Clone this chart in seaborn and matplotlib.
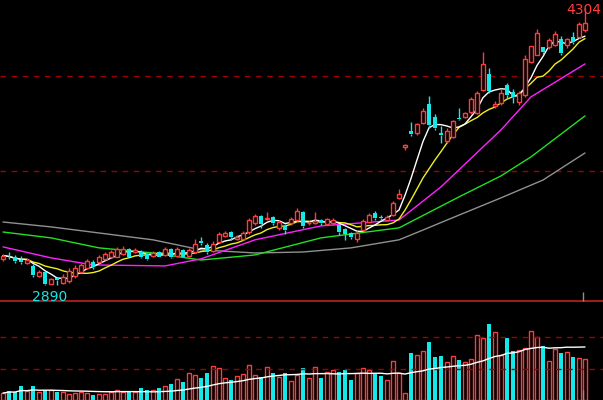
import numpy as np
import pandas as pd
import matplotlib
matplotlib.use("Agg")
import matplotlib.pyplot as plt
import seaborn as sns

opens = [3022,3035,3035,3015,3000,2987,2936,2956,2895,2925,2900,2910,2935,2955,2975,3005,3005,3020,3030,3035,3050,3075,3060,3060,3050,3040,3060,3045,3075,3040,3070,3040,
         3060,3115,3095,3065,3110,3140,3160,3125,3125,3160,3205,3240,3225,3235,3180,3190,3205,3220,3260,3205,3205,3220,3200,3205,3195,3175,3155,3125,3170,3210,3255,3235,3220,
         3245,3335,3595,3675,3665,3716,3812,3745,3665,3625,3645,3740,3745,3772,3765,3885,3966,
         3805,3818,3910,3875,3823,3860,4027,4063,4103,4103,4114,4144,4114,4154,4154,4190]
closes = [3040,3030,3010,3005,3015,2941,2956,2895,2920,2915,2930,2960,2975,2990,3010,2980,3035,3050,3060,3075,3075,3035,3070,3030,3020,3055,3035,3075,3030,3075,3035,3070,
          3100,3105,3060,3100,3150,3155,3135,3135,3155,3220,3240,3200,3232,3205,3210,3170,3225,3265,3190,3207,3215,3205,3225,3220,3160,3150,3135,3155,3215,3245,3230,3230,3235,
          3310,3355,3605,3660,3710,3777,3705,3690,3655,3675,3725,3735,3765,3838,3870,4017,3880,
          3815,3870,3860,3850,3870,4043,4108,4175,4078,4139,4170,4073,4144,4129,4220,4226]
highs = [3050,3060,3045,3040,3025,2995,2965,2960,2925,2930,2945,2975,2990,3000,3020,3015,3045,3060,3070,3085,3090,3080,3080,3070,3055,3065,3065,3085,3080,3085,3075,3080,
         3125,3135,3105,3115,3160,3165,3165,3145,3165,3230,3250,3245,3260,3240,3220,3200,3235,3280,3265,3215,3260,3225,3230,3230,3200,3180,3160,3165,3225,3255,3265,3245,3245,
         3320,3380,3610,3720,3715,3790,3855,3760,3700,3690,3730,3790,3770,3850,3880,4080,3995,
         3830,3890,3920,3890,3880,4060,4110,4195,4105,4150,4185,4160,4150,4180,4230,4304]
lows = [3010,3020,3000,2995,2995,2930,2930,2892,2895,2890,2895,2900,2925,2950,2970,2970,3000,3015,3025,3030,3045,3030,3055,3025,3015,3035,3030,3040,3025,3035,3030,3035,
        3055,3095,3050,3060,3105,3135,3120,3120,3120,3150,3195,3180,3220,3195,3170,3150,3195,3215,3180,3195,3200,3195,3195,3195,3145,3120,3125,3110,3165,3205,3220,3220,3215,
        3240,3330,3580,3650,3655,3710,3690,3680,3615,3615,3640,3730,3740,3760,3760,3880,3870,
        3790,3810,3845,3820,3810,3850,4020,4060,4070,4095,4110,4060,4100,4120,4150,4180]
volumes = [21,27,24,42,27,42,24,30,30,24,24,18,21,24,21,15,18,18,24,30,24,27,24,36,30,30,36,42,48,63,54,81,75,66,81,102,96,66,60,72,78,105,75,69,99,81,69,81,57,75,
           96,66,99,66,84,90,84,90,60,81,96,90,81,72,60,117,81,21,141,135,147,174,129,132,114,132,120,114,123,195,186,231,204,135,186,147,150,156,207,189,162,117,153,141,144,129,126,123]

ma_grey_idx = [0,8,16,25,33,42,50,58,66,70,74,83,90,97]
ma_grey = [3211,3186,3155,3120,3069,3053,3058,3079,3120,3170,3221,3334,3425,3563]
ma_green_idx = [0,8,16,25,33,42,53,66,76,83,88,97]
ma_green = [3160,3130,3079,3053,3017,3043,3130,3181,3339,3446,3543,3752]
ma_mag_idx = [0,8,15,27,33,42,53,66,73,83,88,97]
ma_mag = [3084,3028,2992,2987,3023,3120,3191,3221,3390,3681,3849,4017]

RED = "#ff3c3c"
CYAN = "#14e8e8"
BG = "black"

sns.set_style("dark")
df = pd.DataFrame({"o": opens, "c": closes, "h": highs, "l": lows, "v": volumes})
df["i"] = np.arange(len(df))
df["ma5"] = df.c.rolling(5, min_periods=1).mean()
df["ma10"] = df.c.rolling(10, min_periods=1).mean()
df["vma"] = df.v.rolling(20, min_periods=1).mean()

fig = plt.figure(figsize=(6.03, 4.0), dpi=100, facecolor=BG)
ax = fig.add_axes([0, 0.245, 1, 0.755])
axv = fig.add_axes([0, 0, 1, 0.24])
for a in (ax, axv):
    a.set_facecolor(BG)
    a.set_xlim(-0.5, 100)
    a.set_xticks([]); a.set_yticks([])
    for s in a.spines.values():
        s.set_visible(False)
    a.grid(False)

ax.set_ylim(2803, 4343)
ax.axhline(3956, color="#a00000", ls=(0, (4, 4)), lw=1)
ax.axhline(3471, color="#a00000", ls=(0, (4, 4)), lw=1)
ax.axhline(2806, color="#c02020", lw=1.2)

sns.lineplot(x=ma_grey_idx, y=ma_grey, ax=ax, color="#909090", lw=1)
sns.lineplot(x=ma_green_idx, y=ma_green, ax=ax, color="#22e022", lw=1)
sns.lineplot(x=ma_mag_idx, y=ma_mag, ax=ax, color="#ff22ff", lw=1)
sns.lineplot(data=df, x="i", y="ma10", ax=ax, color="#f0f020", lw=1)
sns.lineplot(data=df, x="i", y="ma5", ax=ax, color="white", lw=1)

w = 0.7
for _, r in df.iterrows():
    col = RED if r.c >= r.o else CYAN
    lo, hi = min(r.o, r.c), max(r.o, r.c)
    ax.vlines(r.i, r.l, lo, color=col, lw=1, zorder=3)
    ax.vlines(r.i, hi, r.h, color=col, lw=1, zorder=3)
    body = max(hi - lo, 3)
    if r.c >= r.o:
        ax.bar(r.i, body, bottom=lo, width=w, facecolor=BG, edgecolor=col, lw=1, zorder=4)
    else:
        ax.bar(r.i, body, bottom=lo, width=w, color=col, lw=0, zorder=4)

imin = int(df.l.idxmin())
ax.text(99.8, 4290, f"{df.h.max():.0f}", color=RED, ha="right", va="center", fontsize=10)
ax.text(7.8, 2829, f"{df.l.min():.0f}", color=CYAN, ha="center", va="center", fontsize=10)
ax.vlines(96.7, 2806, 2855, color="#909090", lw=1)

axv.set_ylim(0, 290)
axv.axhline(189, color="#a00000", ls=(0, (4, 4)), lw=1)
axv.axhline(93, color="#a00000", ls=(0, (4, 4)), lw=1)
for _, r in df.iterrows():
    if r.c >= r.o:
        axv.bar(r.i, r.v, width=0.8, facecolor=BG, edgecolor=RED, lw=1)
    else:
        axv.bar(r.i, r.v, width=0.8, color=CYAN, lw=0)
sns.lineplot(data=df, x="i", y="vma", ax=axv, color="white", lw=1)
axv.vlines(96.7, 0, 30, color="#909090", lw=1)
for a in (ax, axv):
    a.set_xlabel(""); a.set_ylabel("")
fig.savefig("out.png", dpi=100, facecolor=BG)
